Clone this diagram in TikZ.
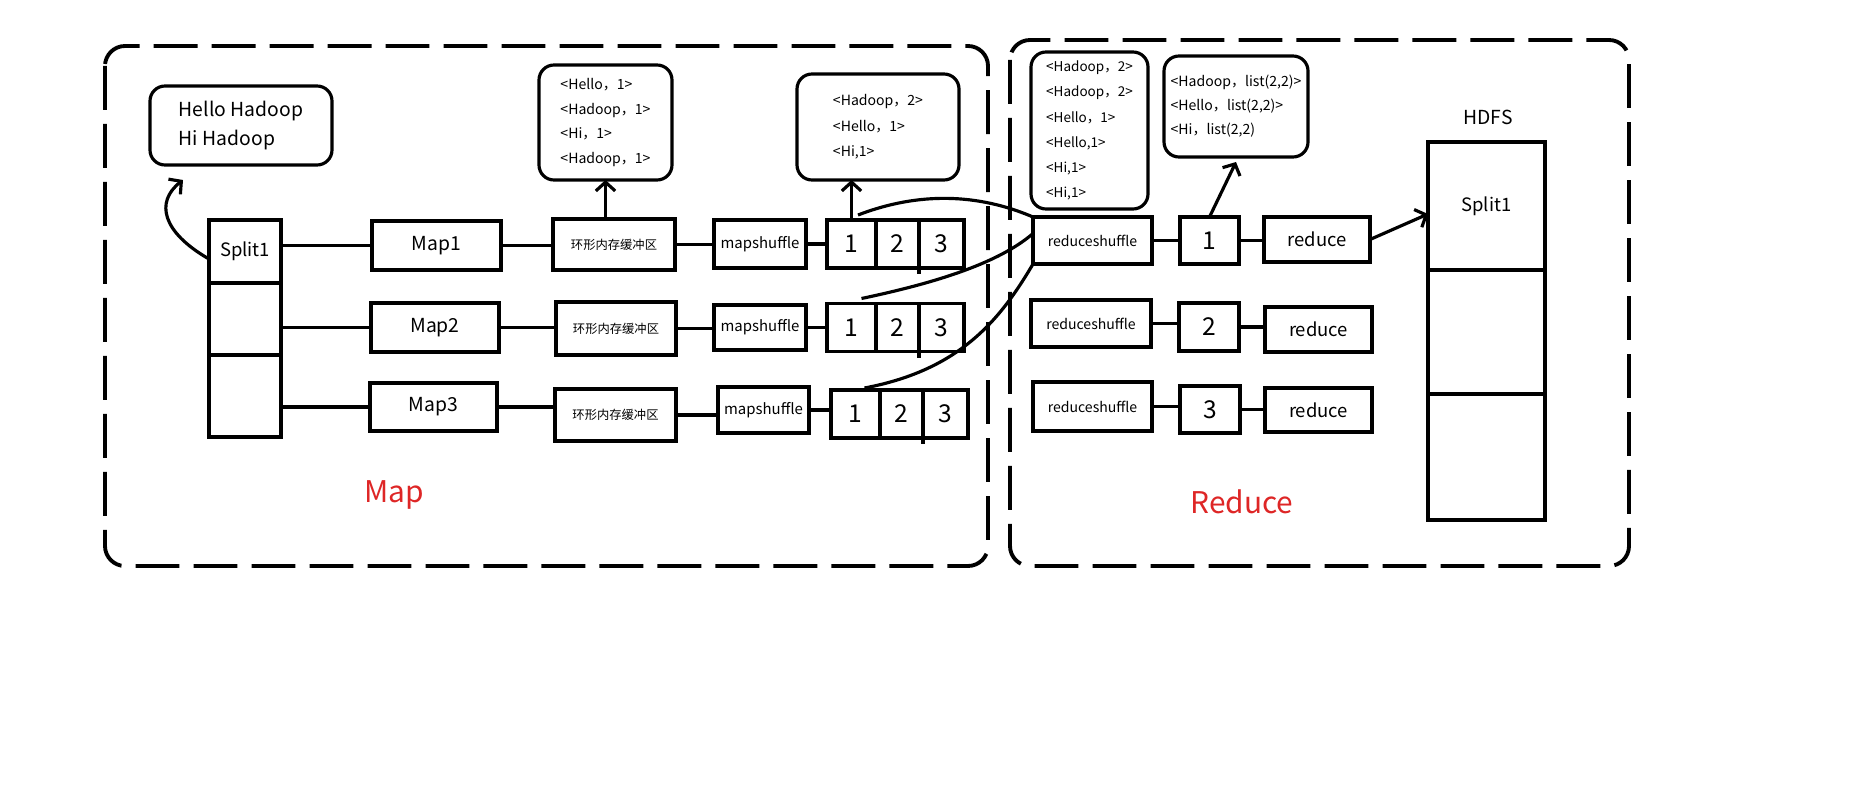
\documentclass[tikz,border=0pt]{standalone}
\usepackage{fontspec}
\setmainfont{Noto Sans CJK SC}
\usetikzlibrary{arrows.meta}

\definecolor{labelred}{RGB}{222,38,38}

\tikzset{
   box/.style={draw, line width=1.8pt, inner sep=0pt, outer sep=0pt},
   tuple/.style={box, rounded corners=0.3cm, align=left},
   cell/.style={box, minimum height=0.96cm, font=\fontsize{14}{16}\selectfont},
   frame/.style={line width=2.2pt, dash pattern=on 25pt off 8pt, rounded corners=0.4cm},
}

% three partition cells 1|2|3
\def\parts#1#2#3{
   \node[cell, minimum width=0.98cm, anchor=west] (pa#1) at (#2,#3) {1};
   \node[cell, minimum width=0.86cm, anchor=west] (pb#1) at (pa#1.east) {2};
   \node[cell, minimum width=0.90cm, anchor=west] (pc#1) at (pb#1.east) {3};
   \draw (pc#1.south west) -- ++(0,0.06);
}

\begin{document}
\begin{tikzpicture}[x=2cm, y=-2cm, line width=1.8pt, >={Straight Barb[length=5pt,width=11pt]}]
   \useasboundingbox (0,0) rectangle (18.66,7.91);
   %\draw[step=1,gray,very thin] (0,0) grid (18,7);
   \draw[frame] (1.05,0.46) rectangle (9.88,5.66);
   \draw[frame] (10.10,0.40) rectangle (16.29,5.66);
   \node[text=labelred, font=\fontsize{17}{20}\selectfont] (maplabel) at (3.94,4.95) {Map};
   \node[text=labelred, font=\fontsize{17}{20}\selectfont] (reducelabel) at (12.42,5.02) {Reduce};

   % input split and the text it holds
   \node[box, minimum width=1.44cm, minimum height=1.26cm, font=\fontsize{10.5}{12}\selectfont] (s1) at (2.45,2.515) {Split1};
   \node[box, minimum width=1.44cm, minimum height=1.44cm] (s2) at (2.45,3.19) {};
   \node[box, minimum width=1.44cm, minimum height=1.64cm] (s3) at (2.45,3.96) {};
   \node[tuple, minimum width=3.64cm, minimum height=1.58cm, font=\fontsize{11}{16.5}\selectfont] (hello) at (2.41,1.255) {Hello Hadoop\\Hi Hadoop};
   \coordinate (up) at (1.83,1.80);
   \draw[->] ([yshift=-0.15cm]s1.west) .. controls (1.62,2.32) and (1.55,2.02) .. (up);

   % map side
   \node[box, minimum width=2.58cm, minimum height=0.98cm, font=\fontsize{11}{13}\selectfont] (map1) at (4.365,2.455) {Map1};
   \node[box, minimum width=2.56cm, minimum height=0.98cm, font=\fontsize{11}{13}\selectfont] (map2) at (4.35,3.275) {Map2};
   \node[box, minimum width=2.54cm, minimum height=0.96cm, font=\fontsize{11}{13}\selectfont] (map3) at (4.335,4.07) {Map3};
   \node[box, minimum width=2.44cm, minimum height=1.02cm, font=\fontsize{7}{9}\selectfont] (buf1) at (6.14,2.445) {环形内存缓冲区};
   \node[box, minimum width=2.40cm, minimum height=1.06cm, font=\fontsize{7}{9}\selectfont] (buf2) at (6.16,3.285) {环形内存缓冲区};
   \node[box, minimum width=2.42cm, minimum height=1.04cm, font=\fontsize{7}{9}\selectfont] (buf3) at (6.155,4.15) {环形内存缓冲区};
   \node[box, minimum width=1.84cm, minimum height=0.96cm, font=\fontsize{8.5}{10}\selectfont] (ms1) at (7.60,2.44) {mapshuffle};
   \node[box, minimum width=1.84cm, minimum height=0.90cm, font=\fontsize{8.5}{10}\selectfont] (ms2) at (7.60,3.275) {mapshuffle};
   \node[box, minimum width=1.82cm, minimum height=0.92cm, font=\fontsize{8.5}{10}\selectfont] (ms3) at (7.635,4.10) {mapshuffle};
   \parts{1}{8.27}{2.44}
   \parts{2}{8.27}{3.275}
   \parts{3}{8.31}{4.14}
   \node[tuple, minimum width=2.66cm, minimum height=2.30cm, font=\fontsize{8}{14.2}\selectfont] (t1) at (6.055,1.225)
      {<Hello，1>\\<Hadoop，1>\\<Hi，1>\\<Hadoop，1>};
   \node[tuple, minimum width=3.24cm, minimum height=2.12cm, font=\fontsize{8}{14.5}\selectfont] (t2) at (8.78,1.27)
      {<Hadoop，2>\\<Hello，1>\\<Hi,1>};

   % reduce side
   \node[box, minimum width=2.38cm, minimum height=0.94cm, font=\fontsize{8}{10}\selectfont] (rs1) at (10.925,2.405) {reduceshuffle};
   \node[box, minimum width=2.40cm, minimum height=0.94cm, font=\fontsize{8}{10}\selectfont] (rs2) at (10.91,3.235) {reduceshuffle};
   \node[box, minimum width=2.38cm, minimum height=0.98cm, font=\fontsize{8}{10}\selectfont] (rs3) at (10.925,4.065) {reduceshuffle};
   \node[box, minimum width=1.18cm, minimum height=0.94cm, font=\fontsize{14}{16}\selectfont] (num1) at (12.095,2.405) {1};
   \node[box, minimum width=1.20cm, minimum height=0.96cm, font=\fontsize{14}{16}\selectfont] (num2) at (12.09,3.27) {2};
   \node[box, minimum width=1.20cm, minimum height=0.94cm, font=\fontsize{14}{16}\selectfont] (num3) at (12.10,4.095) {3};
   \node[box, minimum width=2.12cm, minimum height=0.90cm, font=\fontsize{10.5}{12}\selectfont] (red1) at (13.17,2.395) {reduce};
   \node[box, minimum width=2.14cm, minimum height=0.90cm, font=\fontsize{10.5}{12}\selectfont] (red2) at (13.185,3.295) {reduce};
   \node[box, minimum width=2.14cm, minimum height=0.88cm, font=\fontsize{10.5}{12}\selectfont] (red3) at (13.185,4.10) {reduce};
   \node[tuple, minimum width=2.34cm, minimum height=3.14cm, font=\fontsize{7.7}{14.3}\selectfont] (t3) at (10.895,1.305)
      {<Hadoop，2>\\<Hadoop，2>\\<Hello，1>\\<Hello,1>\\<Hi,1>\\<Hi,1>};
   \node[tuple, minimum width=2.88cm, minimum height=2.02cm, font=\fontsize{8}{13.7}\selectfont] (t4) at (12.36,1.065)
      {<Hadoop，list(2,2)>\\<Hello，list(2,2)>\\<Hi，list(2,2)};

   % output in HDFS
   \node[font=\fontsize{11}{13}\selectfont] (hdfs) at (14.88,1.17) {HDFS};
   \node[box, minimum width=2.34cm, minimum height=2.56cm, font=\fontsize{10.5}{12}\selectfont] (h1) at (14.865,2.06) {Split1};
   \node[box, minimum width=2.34cm, minimum height=2.48cm] (h2) at (14.865,3.32) {};
   \node[box, minimum width=2.34cm, minimum height=2.52cm] (h3) at (14.865,4.57) {};

   \foreach \r in {1,2,3} {
      \draw (map\r.west -| s\r.east) -- (map\r.west);
      \draw (map\r.east) -- (map\r.east -| buf\r.west);
      \draw (buf\r.east) -- (buf\r.east -| ms\r.west);
      \draw (ms\r.east) -- (ms\r.east -| pa\r.west);
      \draw (rs\r.east) -- (rs\r.east -| num\r.west);
      \draw (num\r.east) -- (num\r.east -| red\r.west);
   }
   \draw[->] (t1.south |- buf1.north) -- (t1.south);
   \draw[->] (pa1.north) -- (pa1.north |- t2.south);
   \draw ([xshift=0.13cm,yshift=0.1cm]pa1.north) .. controls (9.10,1.95) and (9.70,1.90) .. (rs1.north west);
   \draw ([xshift=0.2cm,yshift=0.1cm]pa2.north) .. controls (9.40,2.82) and (10.00,2.62) .. ([yshift=0.14cm]rs1.west);
   \draw ([xshift=0.18cm,yshift=0.04cm]pa3.north) .. controls (9.60,3.70) and (10.00,3.20) .. (rs1.south west);
   \draw[->] (num1.north) -- ([yshift=-0.1cm]t4.south);
   \draw[->] (red1.east) -- ([yshift=-0.16cm]h1.west);
\end{tikzpicture}
\end{document}
